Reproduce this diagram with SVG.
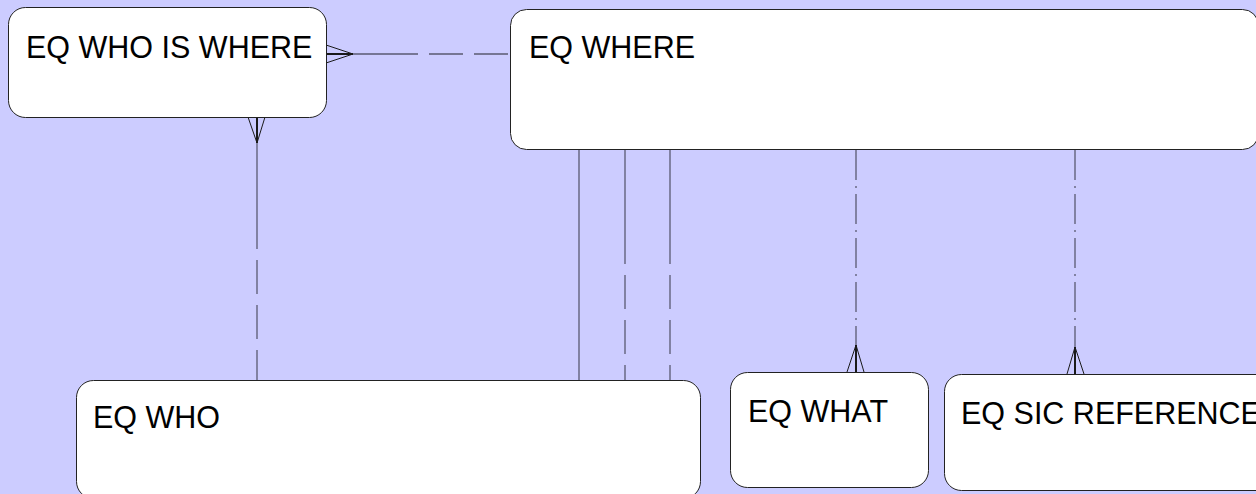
<svg xmlns="http://www.w3.org/2000/svg" width="1256" height="494" viewBox="0 0 1256 494">
  <style>
    .box { fill: #ffffff; stroke: #222222; stroke-width: 1; }
    .label { font-family: "Liberation Sans", Arial, sans-serif; font-size: 30.5px; fill: #000000; }
    .rel { fill: none; stroke: #5a5a72; stroke-width: 1.3; }
    .opt { fill: none; stroke: #5a5a72; stroke-width: 1.3; stroke-dasharray: 34 11; stroke-dashoffset: 34; }
    .dd { fill: none; stroke: #5a5a72; stroke-width: 1.3; stroke-dasharray: 30 6 2 6; }
    .foot { fill: none; stroke: #1a1a1a; stroke-width: 1; }
    .stem { fill: none; stroke: #1a1a1a; stroke-width: 2; }
  </style>
  <rect x="0" y="0" width="1256" height="494" fill="#ccccff"/>

  <!-- relationship lines -->
  <g id="connectors">
    <!-- WHO IS WHERE >- WHERE -->
    <path class="foot" d="M326,45 L353,54 M326,63 L353,54"/>
    <path class="stem" d="M326,54 H353"/>
    <path class="rel" d="M353,54 H418"/>
    <path class="opt" d="M418,54 H510"/>

    <!-- WHO IS WHERE >- WHO -->
    <path class="foot" d="M248,117 L257,143 M265,117 L257,143"/>
    <path class="stem" d="M257,117 V143"/>
    <path class="rel" d="M257,143 V249"/>
    <path class="opt" d="M257,249 V380"/>

    <!-- WHERE - WHO -->
    <path class="rel" d="M579,150 V380"/>
    <path class="rel" d="M625,150 V264"/>
    <path class="opt" d="M625,264 V380"/>
    <path class="rel" d="M670,150 V264"/>
    <path class="opt" d="M670,264 V380"/>

    <!-- WHERE -< WHAT -->
    <path class="dd" d="M856,150 V345"/>
    <path class="foot" d="M847,372 L856,345 L864,372"/>
    <path class="stem" d="M856,345 V372"/>

    <!-- WHERE -< SIC REFERENCE -->
    <path class="dd" d="M1075,150 V347"/>
    <path class="foot" d="M1067,374 L1075,347 L1084,374"/>
    <path class="stem" d="M1075,347 V374"/>
  </g>

  <g id="eq-who-is-where">
    <rect class="box" x="8.5" y="7.5" width="318" height="110" rx="17"/>
    <text class="label" x="26" y="58">EQ WHO IS WHERE</text>
  </g>

  <g id="eq-where">
    <rect class="box" x="510.5" y="9.5" width="748" height="140" rx="16"/>
    <text class="label" x="529" y="58">EQ WHERE</text>
  </g>

  <g id="eq-who">
    <rect class="box" x="76.5" y="380.5" width="624" height="118" rx="17"/>
    <text class="label" x="93" y="428">EQ WHO</text>
  </g>

  <g id="eq-what">
    <rect class="box" x="730.5" y="372.5" width="198" height="115" rx="17"/>
    <text class="label" x="748" y="422">EQ WHAT</text>
  </g>

  <g id="eq-sic-reference">
    <rect class="box" x="944.5" y="374.5" width="330" height="116" rx="17"/>
    <text class="label" x="961" y="424">EQ SIC REFERENCE</text>
  </g>
</svg>
